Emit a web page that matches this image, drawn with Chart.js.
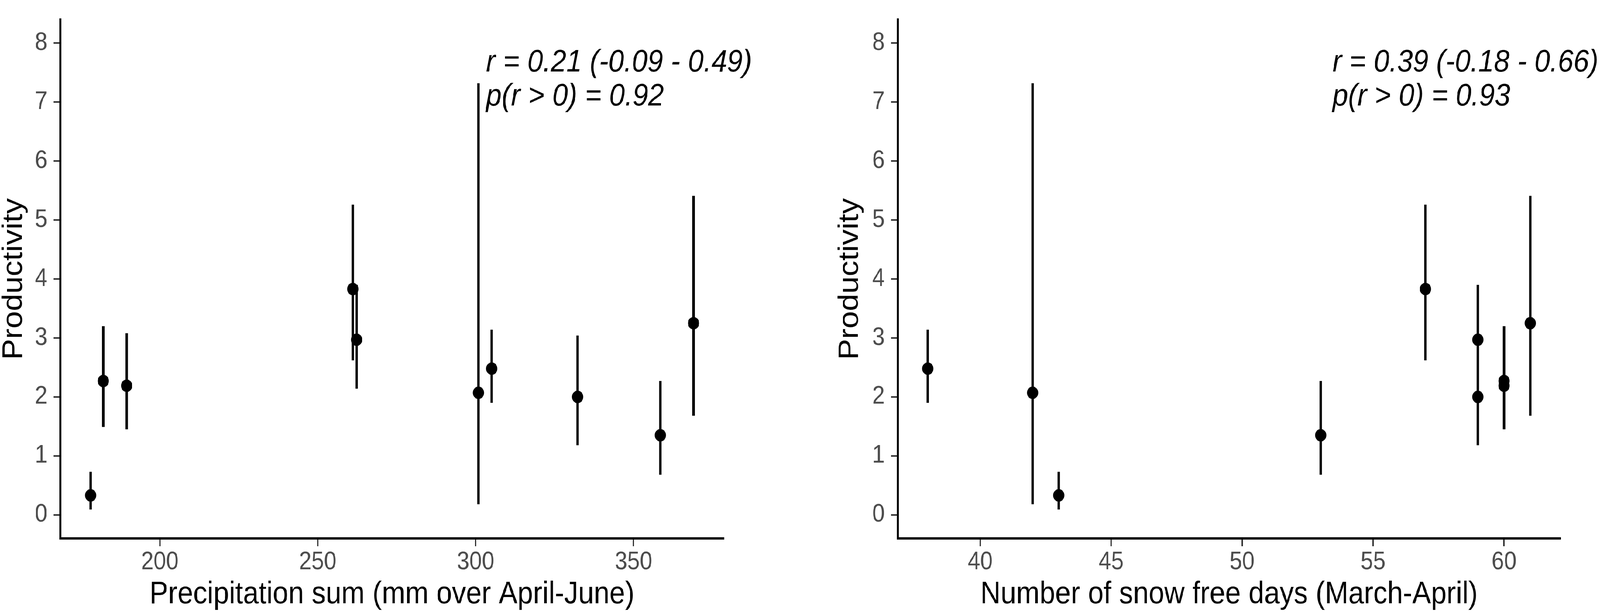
<!DOCTYPE html>
<html>
<head>
<meta charset="utf-8">
<script src="https://cdn.jsdelivr.net/npm/chart.js@4.4.0/dist/chart.umd.min.js"></script>
<style>
  html, body { margin: 0; padding: 0; background: #fff; overflow: hidden; }
  #figure { position: absolute; left: 0; top: 0; width: 4562px; height: 1574px; transform-origin: 0 0; }
  .panel { position: absolute; top: 0; width: 2281px; height: 1574px; }
</style>
</head>
<body>
<div id="figure">
  <div class="panel" style="left:0"><canvas id="precipChart" width="2281" height="1574"></canvas></div>
  <div class="panel" style="left:2281px"><canvas id="snowChart" width="2281" height="1574"></canvas></div>
</div>
<script>
// one entry per site, same order in every array
const precipitation = [178.1, 182.1, 189.5, 261.1, 262.3, 300.9, 305.1, 332.3, 358.5, 369.0];
const snowFreeDays  = [43, 60, 60, 57, 59, 42, 38, 59, 53, 61];
const productivity  = [0.33, 2.27, 2.19, 3.83, 2.97, 2.07, 2.48, 2.00, 1.35, 3.25];
const lowerCI       = [0.09, 1.49, 1.45, 2.62, 2.14, 0.18, 1.90, 1.18, 0.68, 1.68];
const upperCI       = [0.73, 3.20, 3.08, 5.26, 3.90, 7.32, 3.14, 3.04, 2.27, 5.41];

// correlation labels (two lines per panel) and where they sit, in data units
const precipLabel = ['r = 0.21 (-0.09 - 0.49)', 'p(r > 0) = 0.92'];
const snowLabel   = ['r = 0.39 (-0.18 - 0.66)', 'p(r > 0) = 0.93'];
const labelX      = [303.3, 53.45];
const labelY      = [7.52, 6.94];

const FONT = '"Liberation Sans", Arial, sans-serif';

// the figure is laid out at 4562x1574; fit it to whatever the window really is
const fitFigure = () => {
  const sx = Math.min(1, window.innerWidth / 4562);
  const sy = Math.min(1, window.innerHeight / 1574);
  document.getElementById('figure').style.transform = `scale(${sx}, ${sy})`;
};
fitFigure();

const corrLabel = {
  id: 'corrLabel',
  afterDatasetsDraw(chart, args, opts) {
    const { ctx, scales } = chart;
    ctx.save();
    ctx.font = 'italic 80px ' + FONT;
    ctx.fillStyle = '#000';
    ctx.textAlign = 'left';
    ctx.textBaseline = 'alphabetic';
    opts.lines.forEach((txt, i) => {
      ctx.fillText(txt, scales.x.getPixelForValue(opts.x), scales.y.getPixelForValue(labelY[i]));
    });
    ctx.restore();
  }
};

const makeChart = (id, xs, cfg) => {
  const points = xs.map((x, i) => ({ x, y: productivity[i] }));
  // error bars: one vertical segment per site, broken by null gaps
  const bars = [];
  xs.forEach((x, i) => {
    bars.push({ x, y: lowerCI[i] }, { x, y: upperCI[i] }, { x, y: null });
  });

  return new Chart(document.getElementById(id), {
    type: 'scatter',
    data: {
      datasets: [
        {
          label: 'Productivity',
          data: points,
          pointRadius: 16,
          pointHoverRadius: 16,
          backgroundColor: '#000',
          borderWidth: 0,
          order: 0
        },
        {
          label: 'CI',
          data: bars,
          showLine: true,
          spanGaps: false,
          pointRadius: 0,
          borderColor: '#000',
          borderWidth: 7,
          borderCapStyle: 'butt',
          order: 1
        }
      ]
    },
    options: {
      responsive: false,
      animation: false,
      devicePixelRatio: 1,
      layout: { padding: { top: 6, right: cfg.rightPad, left: 0, bottom: 0 } },
      plugins: {
        legend: { display: false },
        tooltip: { enabled: false },
        corrLabel: { lines: cfg.label, x: cfg.labelX }
      },
      scales: {
        x: {
          type: 'linear',
          min: cfg.min,
          max: cfg.max,
          afterFit: (s) => { s.height = 196; },
          border: { display: true, color: '#000', width: 6 },
          grid: { drawOnChartArea: false, drawTicks: true, tickLength: 20, color: '#333', lineWidth: 4 },
          ticks: {
            stepSize: cfg.step,
            includeBounds: false,
            padding: 9,
            color: '#4D4D4D',
            font: { family: FONT, size: 64, lineHeight: 1 },
            maxRotation: 0
          },
          title: {
            display: true,
            text: cfg.xTitle,
            color: '#000',
            font: { family: FONT, size: 80, lineHeight: 1 },
            padding: { top: 0, bottom: 12 }
          }
        },
        y: {
          min: -0.4,
          max: 8.4,
          afterFit: (s) => { s.width = cfg.yWidth; },
          border: { display: true, color: '#000', width: 6 },
          grid: { drawOnChartArea: false, drawTicks: true, tickLength: 19, color: '#333', lineWidth: 4 },
          ticks: {
            stepSize: 1,
            includeBounds: false,
            padding: 18,
            color: '#4D4D4D',
            font: { family: FONT, size: 64, lineHeight: 1 }
          },
          title: {
            display: true,
            text: 'Productivity',
            color: '#000',
            font: { family: FONT, size: 80, lineHeight: 1 },
            padding: { top: cfg.yTitlePad, bottom: 0 }
          }
        }
      }
    },
    plugins: [corrLabel]
  });
};

makeChart('precipChart', precipitation, {
  min: 168.5, max: 378.5, step: 50,
  xTitle: 'Precipitation sum (mm over April-June)',
  yWidth: 172, rightPad: 218, yTitlePad: 0,
  label: precipLabel, labelX: labelX[0]
});

makeChart('snowChart', snowFreeDays, {
  min: 36.85, max: 62.15, step: 5,
  xTitle: 'Number of snow free days (March-April)',
  yWidth: 278.5, rightPad: 113, yTitlePad: 103,
  label: snowLabel, labelX: labelX[1]
});
</script>
</body>
</html>
